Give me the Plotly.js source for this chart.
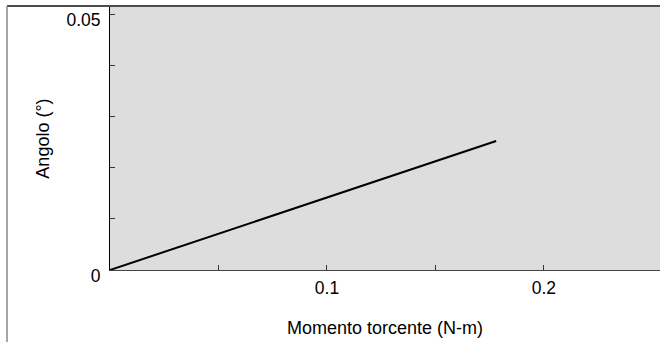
<!DOCTYPE html>
<html><head><meta charset="utf-8">
<script src="https://cdn.plot.ly/plotly-3.0.1.min.js"></script>
<style>html,body{margin:0;padding:0;background:#fff}#c{width:660px;height:342px}</style>
</head><body><div id="c"></div>
<script>
const torque = [0, 0.178];
const angle = [0, 0.0252];
const xTickVals = [0.05, 0.1, 0.15, 0.2];
const xTickText = ['', '0.1', '', '0.2'];
const yTickVals = [0, 0.01, 0.02, 0.03, 0.04, 0.05];
const yTickText = ['0', '', '', '', '', '0.05'];
const xTitle = 'Momento torcente (N-m)';
const yTitle = 'Angolo (°)';

const fam = 'Liberation Sans, Arial, sans-serif';
const tickFont = {family: fam, size: 17.5, color: '#000'};
const titleFont = {family: fam, size: 18, color: '#000'};
Plotly.newPlot('c', [{
  x: torque, y: angle, type: 'scatter', mode: 'lines',
  line: {color: '#000', width: 2}, hoverinfo: 'skip'
}], {
  width: 660, height: 342,
  margin: {l: 110, r: 0, t: 7, b: 72, pad: 0},
  paper_bgcolor: '#fff', plot_bgcolor: '#dddddd',
  showlegend: false, font: tickFont,
  xaxis: {
    range: [0, 0.2535], tickvals: xTickVals, ticktext: xTickText,
    ticks: 'inside', ticklen: 5, tickcolor: '#333', tickwidth: 1,
    showgrid: false, zeroline: false, showline: true, linecolor: '#444', linewidth: 1,
    tickfont: tickFont, ticklabelstandoff: 2, fixedrange: true,
    title: {text: xTitle, font: titleFont, standoff: 24}
  },
  yaxis: {
    range: [0, 0.05137], tickvals: yTickVals, ticktext: yTickText,
    ticks: 'inside', ticklen: 5, tickcolor: '#333', tickwidth: 1,
    showgrid: false, zeroline: false, showline: true, linecolor: '#000', linewidth: 1,
    tickfont: tickFont, ticklabelshift: 6, ticklabelstandoff: 5, fixedrange: true,
    title: {text: yTitle, font: titleFont, standoff: 12}
  },
  shapes: [
    {type: 'line', xref: 'paper', yref: 'paper', x0: -0.1873, x1: 1, y0: 1.0038, y1: 1.0038, line: {color: '#111', width: 1.5}},
    {type: 'line', xref: 'paper', yref: 'paper', x0: -0.1873, x1: -0.1873, y0: 1.0038, y1: -0.28, line: {color: '#888', width: 1.5}}
  ]
}, {displayModeBar: false, staticPlot: true});
</script></body></html>
